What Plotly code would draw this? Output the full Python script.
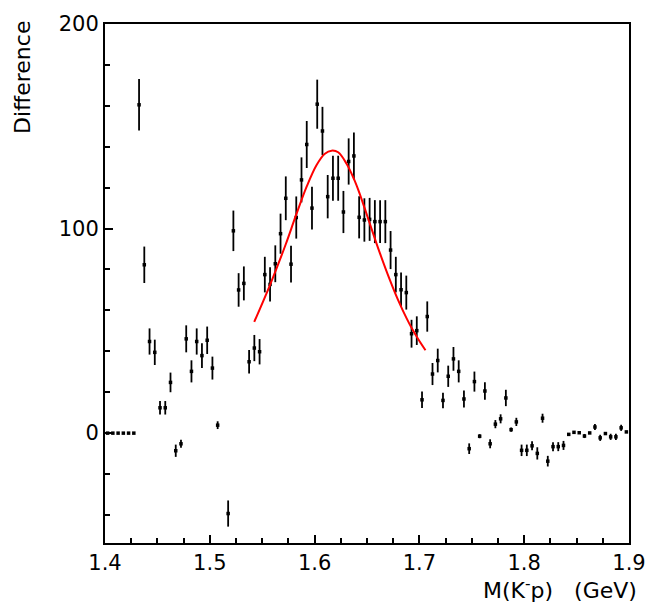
import plotly.graph_objects as go

# Bin centres: 100 bins of width 0.005 GeV from 1.4 to 1.9
bin_low = 1.4
bin_width = 0.005
n_bins = 100
mass = [round(bin_low + bin_width * (i + 0.5), 4) for i in range(n_bins)]

difference = [
    0, 0, 0, 0, 0, 0, 160.5, 82.3, 44.8, 39.5,
    12.4, 12.4, 24.8, -8.6, -5.2, 46.1, 30.2, 44.8, 37.9, 45.4,
    31.8, 3.9, None, -39.3, 98.9, 70.0, 73.2, 34.9, 41.6, 39.8,
    77.5, 72.7, 82.8, 97.5, 114.8, 82.6, 105.4, 123.8, 141.1, 110.0,
    160.8, 147.7, 115.6, 124.6, 124.6, 108.1, 132.8, 135.5, 105.5, 104.2,
    104.5, 103.4, 103.4, 103.4, 89.5, 77.5, 70.1, 68.7, 48.6, 50.1,
    16.3, 57.0, 28.9, 35.5, 16.0, 27.8, 36.3, 30.2, 16.7, -7.6,
    25.2, -1.5, 20.6, -5.2, 4.4, 7.0, 17.2, 1.7, 5.5, -8.4,
    -8.4, -6.2, -9.9, 7.3, -13.7, -6.6, -6.6, -6.0, -0.6, 0.4,
    0.2, -1.4, 0.1, 3.0, -2.3, -0.2, -1.8, -1.8, 2.6, 0.6,
]

errors = [
    0, 0, 0, 0, 0, 0, 12.6, 8.9, 6.4, 6.2,
    3.3, 3.3, 4.8, 3.0, 2.0, 6.6, 5.4, 6.4, 6.0, 6.7,
    5.6, 1.9, 0, 6.4, 9.9, 8.2, 8.3, 5.7, 6.4, 6.2,
    8.7, 8.4, 9.0, 9.8, 10.7, 9.0, 10.3, 11.0, 11.5, 10.4,
    12.0, 11.8, 10.6, 11.0, 11.0, 10.3, 11.3, 11.5, 10.3, 10.6,
    10.5, 10.5, 10.5, 10.5, 9.3, 8.7, 8.4, 8.3, 6.8, 7.0,
    4.0, 7.4, 5.4, 5.8, 3.8, 5.2, 5.8, 5.4, 4.2, 2.6,
    4.9, 1.0, 4.3, 2.2, 2.0, 2.2, 4.0, 1.0, 2.0, 2.8,
    2.8, 2.2, 3.0, 2.2, 2.6, 2.2, 2.2, 2.2, 0.5, 0.5,
    0.5, 1.0, 0.5, 1.5, 1.5, 0.5, 1.5, 1.5, 1.5, 0.5,
]

# Fit curve
fit_mass = [1.5424, 1.5574, 1.5723, 1.5821, 1.5924, 1.6019, 1.6098, 1.6162,
            1.6225, 1.6305, 1.6375, 1.6422, 1.6480, 1.6559, 1.6623, 1.6718,
            1.6797, 1.6877, 1.6925, 1.6988, 1.7058]
fit_value = [54.4, 72.4, 92.1, 106.3, 120.5, 131.1, 136.6, 138.1,
             137.3, 131.7, 124.3, 118.2, 109.6, 97.5, 88.0, 74.9,
             65.0, 56.2, 51.5, 46.0, 40.5]

x_ticks = [1.4, 1.5, 1.6, 1.7, 1.8, 1.9]
x_tick_labels = ["1.4", "1.5", "1.6", "1.7", "1.8", "1.9"]
y_ticks = [0, 100, 200]
y_tick_labels = ["0", "100", "200"]

FONT = "DejaVu Sans"

fig = go.Figure()
fig.add_trace(go.Scatter(
    x=mass, y=difference, mode="markers",
    marker=dict(symbol="square", size=3.5, color="black", line=dict(width=0)),
    error_y=dict(type="data", array=errors, visible=True, color="black",
                 thickness=1.8, width=0),
    showlegend=False,
))
fig.add_trace(go.Scatter(
    x=fit_mass, y=fit_value, mode="lines",
    line=dict(color="#ff0000", width=2, shape="spline", smoothing=1.0),
    showlegend=False,
))

axis_common = dict(
    showgrid=False, zeroline=False, showline=True, linecolor="black",
    linewidth=2, mirror=True, ticks="inside", tickcolor="black",
    tickwidth=1.5, ticklen=8,
    tickfont=dict(family=FONT, size=21, color="black"),
)

fig.update_xaxes(
    range=[1.4, 1.9], tickmode="array", tickvals=x_ticks, ticktext=x_tick_labels,
    minor=dict(ticks="inside", dtick=0.025, tick0=1.4, ticklen=5,
               tickcolor="black", tickwidth=1.5),
    **axis_common,
)
fig.update_yaxes(
    range=[-53.7, 200], tickmode="array", tickvals=y_ticks, ticktext=y_tick_labels,
    minor=dict(ticks="inside", dtick=20, tick0=0, ticklen=5,
               tickcolor="black", tickwidth=1.5),
    **axis_common,
)

fig.add_annotation(
    text="Difference", textangle=-90, xref="paper", yref="paper",
    x=0, y=1, xanchor="right", yanchor="top", xshift=-68, yshift=5,
    showarrow=False, font=dict(family=FONT, size=22, color="black"),
)
fig.add_annotation(
    text="M(K<sup>-</sup>p)\u00a0\u00a0\u00a0(GeV)", xref="paper", yref="paper",
    x=1, y=0, xanchor="right", yanchor="top", xshift=10, yshift=-30,
    showarrow=False, font=dict(family=FONT, size=22, color="black"),
)

fig.update_layout(
    width=668, height=605,
    margin=dict(l=105, r=39, t=15, b=62),
    paper_bgcolor="white", plot_bgcolor="white",
)

fig.write_html("out.html")
